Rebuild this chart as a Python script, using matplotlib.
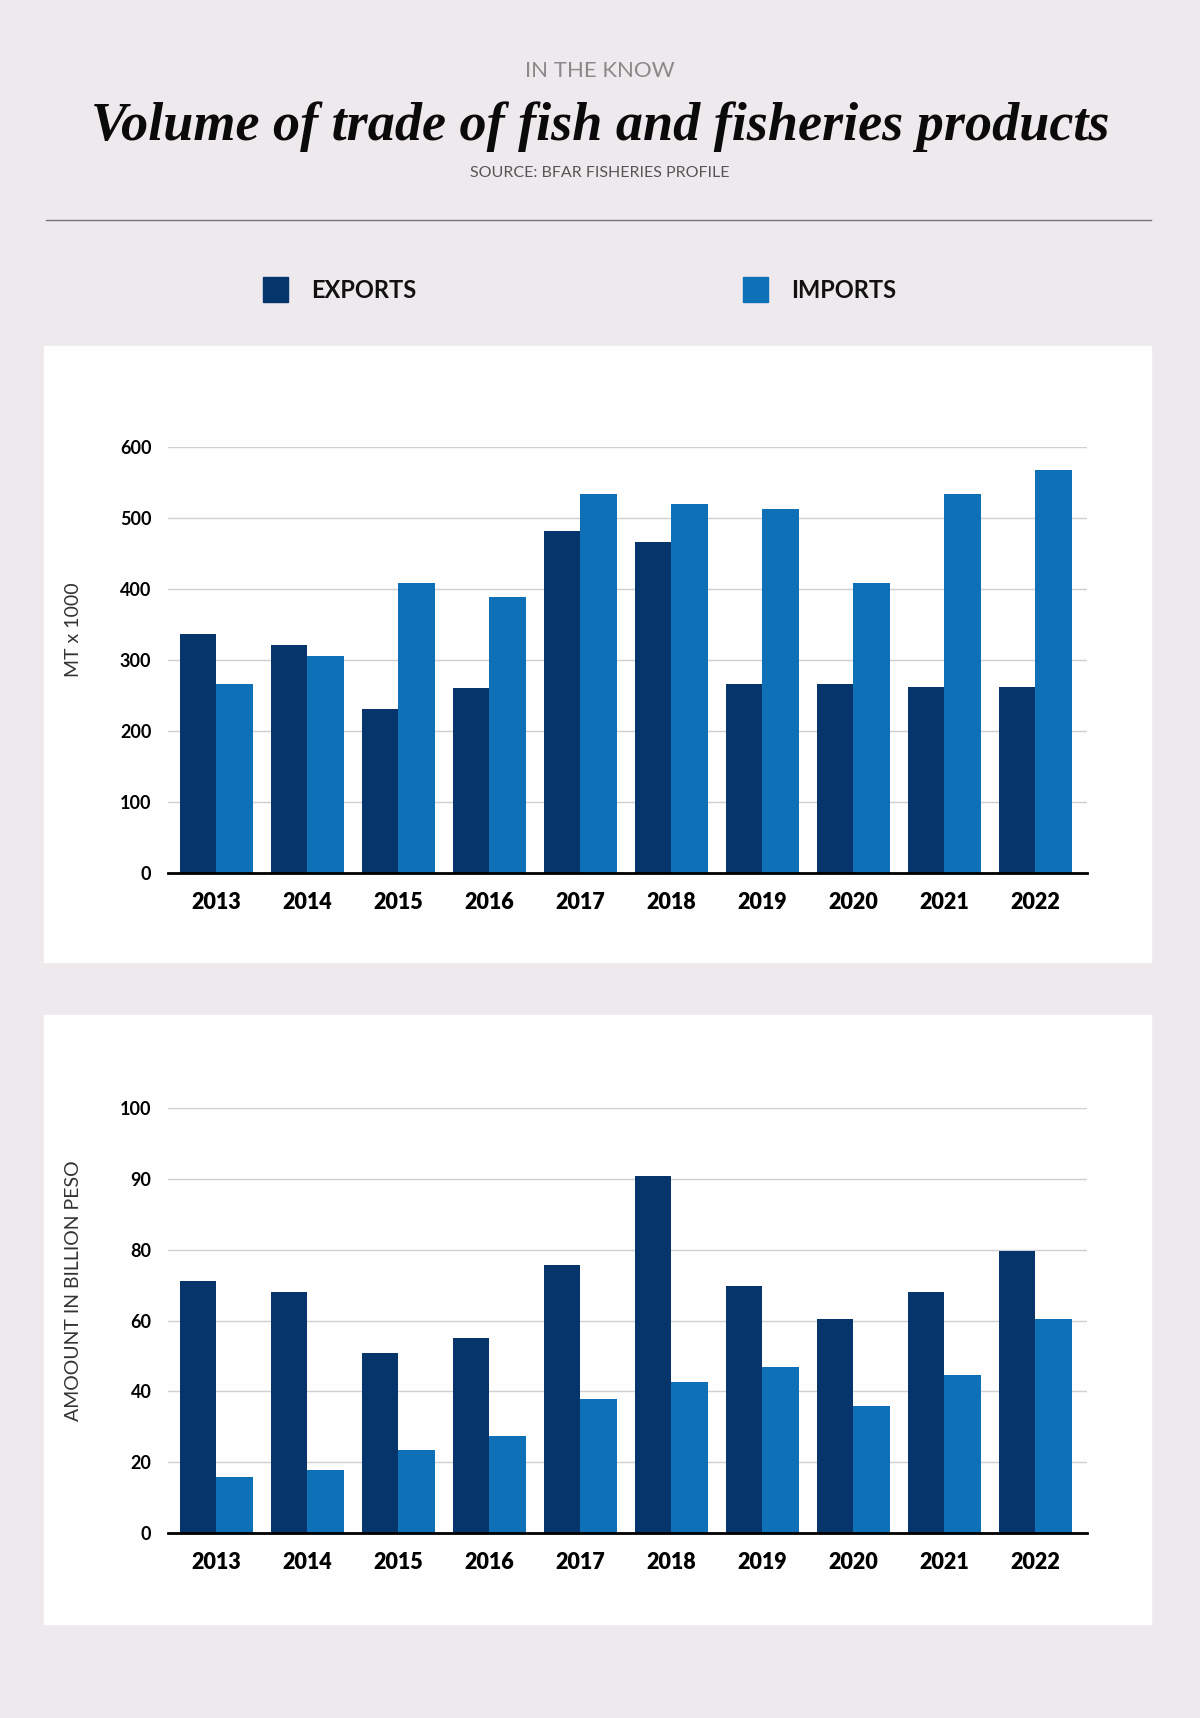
import numpy as np
import matplotlib
matplotlib.use("Agg")
import matplotlib.pyplot as plt
from matplotlib.patches import Rectangle

# values
years = ["2013", "2014", "2015", "2016", "2017", "2018", "2019", "2020", "2021", "2022"]
volume_exports = [337, 321, 231, 260, 482, 466, 266, 266, 262, 262]
volume_imports = [266, 306, 409, 389, 534, 520, 512, 409, 534, 567]
value_exports = [71.2, 68.1, 50.9, 55.2, 75.8, 90.4, 69.8, 60.5, 68.1, 79.7]
value_imports = [15.9, 17.9, 23.5, 27.5, 37.9, 42.7, 47.0, 36.0, 44.7, 60.5]
volume_ticks = [0, 100, 200, 300, 400, 500, 600]
value_ticks = [0, 20, 40, 60, 80, 90, 100]

C_EXP = "#06356b"
C_IMP = "#0e70b6"
BG = "#ede9ec"
CARD = "#fefefe"
SANS = ["Lato", "DejaVu Sans"]

plt.rcParams["font.family"] = SANS

W, H = 1200, 1718
fig = plt.figure(figsize=(W / 100, H / 100), dpi=100)
fig.patch.set_facecolor(BG)


def fx(px):
    return px / W


def fy(py):
    return 1 - py / H


# header
fig.text(0.5, fy(71), "IN THE KNOW", ha="center", va="center",
         fontsize=16, color="#8a8a8a")
fig.text(0.5, fy(127), "Volume of trade of fish and fisheries products",
         ha="center", va="center", fontsize=39, fontweight="bold",
         fontstyle="italic", family=["Liberation Serif"], color="#0a0a0a")
fig.text(0.5, fy(173), "SOURCE: BFAR FISHERIES PROFILE", ha="center",
         va="center", fontsize=11.5, color="#555555")
fig.add_artist(plt.Line2D([fx(46), fx(1151)], [fy(220), fy(220)],
                          color="#777777", lw=1.0, transform=fig.transFigure))

# legend
for sx, tx, c, lab in [(263, 311, C_EXP, "EXPORTS"), (743, 791, C_IMP, "IMPORTS")]:
    fig.add_artist(Rectangle((fx(sx), fy(302)), fx(25), 25 / H, color=c,
                             transform=fig.transFigure))
    fig.text(fx(tx), fy(290), lab, ha="left", va="center", fontsize=17,
             fontweight="bold", color="#111111")

# white cards
for top, bot in [(346, 962), (1015, 1624)]:
    fig.add_artist(Rectangle((fx(44), fy(bot)), fx(1151 - 44), (bot - top) / H,
                             color=CARD, transform=fig.transFigure, zorder=0))


def style_axes(ax, ylabel, yticks):
    ax.set_facecolor("none")
    for s in ["top", "right", "left"]:
        ax.spines[s].set_visible(False)
    ax.spines["bottom"].set_linewidth(2.0)
    ax.spines["bottom"].set_color("#000000")
    ax.set_axisbelow(True)
    ax.grid(axis="y", color="#cfcfd4", lw=1.0)
    ax.tick_params(axis="both", length=0)
    ax.tick_params(axis="y", pad=12)
    ax.tick_params(axis="x", pad=14)
    ax.set_yticks(yticks)
    ax.set_yticklabels([str(v) for v in yticks], fontsize=13, fontweight="bold")
    ax.set_xticks(x)
    ax.set_xticklabels(years, fontsize=15.5, fontweight="heavy")
    ax.set_ylabel(ylabel, fontsize=14, color="#333333")
    ax.yaxis.set_label_coords(-0.094, 0.57)


x = np.arange(len(years))
bw = 0.4
xl = (-0.53, 9.57)

# volume chart
ax1 = fig.add_axes([fx(168), fy(873), fx(1087 - 168), (873 - 447) / H])
ax1.bar(x - bw / 2, volume_exports, bw, color=C_EXP)
ax1.bar(x + bw / 2, volume_imports, bw, color=C_IMP)
ax1.set_xlim(*xl)
ax1.set_ylim(0, 600)
style_axes(ax1, "MT x 1000", volume_ticks)


# value chart: axis labels skip 70, so the scale is piecewise
def fwd(y):
    y = np.asarray(y, dtype=float)
    return np.where(y <= 80, y / 20, 4 + (y - 80) / 10)


def inv(u):
    u = np.asarray(u, dtype=float)
    return np.where(u <= 4, u * 20, 80 + (u - 4) * 10)


ax2 = fig.add_axes([fx(168), fy(1533), fx(1087 - 168), (1533 - 1108) / H])
ax2.set_yscale("function", functions=(fwd, inv))
ax2.bar(x - bw / 2, value_exports, bw, color=C_EXP)
ax2.bar(x + bw / 2, value_imports, bw, color=C_IMP)
ax2.set_xlim(*xl)
ax2.set_ylim(0, 100)
ax2.minorticks_off()
style_axes(ax2, "AMOOUNT IN BILLION PESO", value_ticks)

plt.savefig("out.png", dpi=100, facecolor=BG)
